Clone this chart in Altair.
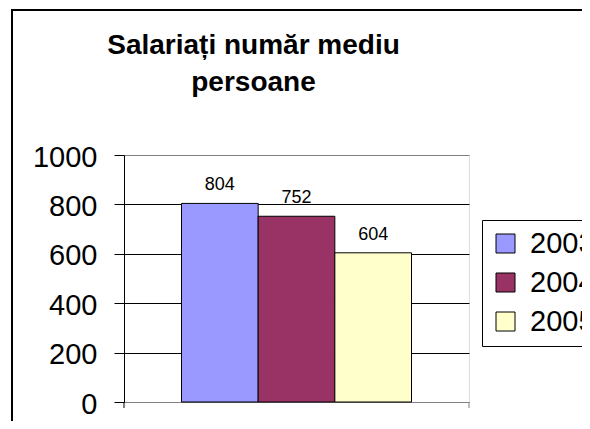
import altair as alt
import pandas as pd

years = ["2003", "2004", "2005"]
values = [804, 752, 604]
colors = ["#9999FF", "#993366", "#FFFFCC"]
y_ticks = [0, 200, 400, 600, 800, 1000]
title_lines = ["Salariați număr mediu", "persoane"]

df = pd.DataFrame({"an": years, "val": values})
FONT = "Liberation Sans"

xenc = alt.X("an:N", scale=alt.Scale(paddingInner=0, paddingOuter=0.75), axis=None)
yenc = alt.Y(
    "val:Q",
    scale=alt.Scale(domain=[0, 1000]),
    axis=alt.Axis(
        values=y_ticks,
        format="d",
        title=None,
        labelFontSize=29,
        labelFont=FONT,
        labelColor="black",
        tickSize=10,
        tickColor="black",
        domainColor="black",
        gridColor={"condition": {"test": "datum.value === 0 || datum.value === 1000", "value": "#808080"}, "value": "black"},
        labelPadding=17,
        labelOffset=2,
    ),
)

one = pd.DataFrame({"k": [0]})
# outer chart-area border (left and top edges; right/bottom lie outside the picture)
frame_left = alt.Chart(one).mark_rule(stroke="black", strokeWidth=2).encode(
    x=alt.value(-112), y=alt.value(-146), y2=alt.value(300)
)
frame_top = alt.Chart(one).mark_rule(stroke="black", strokeWidth=2).encode(
    x=alt.value(-113), x2=alt.value(470), y=alt.value(-145)
)
# category-axis boundary ticks
xtick_l = alt.Chart(one).mark_rule(stroke="black", strokeWidth=1).encode(
    x=alt.value(0), y=alt.value(247), y2=alt.value(253)
)
xtick_r = alt.Chart(one).mark_rule(stroke="#808080", strokeWidth=1).encode(
    x=alt.value(345), y=alt.value(247), y2=alt.value(253)
)

bars = alt.Chart(df).mark_bar(stroke="black", strokeWidth=1).encode(
    x=xenc,
    y=yenc,
    color=alt.Color(
        "an:N",
        scale=alt.Scale(domain=years, range=colors),
        legend=alt.Legend(
            title=None,
            orient="none",
            legendX=358,
            legendY=65,
            labelFontSize=29,
            labelFont=FONT,
            labelColor="black",
            symbolType="square",
            symbolSize=361,
            symbolStrokeColor="black",
            symbolStrokeWidth=1,
            strokeColor="black",
            fillColor="white",
            padding=9,
            rowPadding=9,
            labelOffset=10,
        ),
    ),
)

labels = alt.Chart(df).mark_text(
    baseline="alphabetic", dy=-13, fontSize=18, font=FONT, color="black"
).encode(x=xenc, y="val:Q", text="val:Q")

chart = alt.layer(frame_left, frame_top, xtick_l, xtick_r, bars, labels).properties(
    width=345,
    height=247,
    autosize=alt.AutoSizeParams(type="none"),
    padding={"left": 116, "top": 147, "right": 113, "bottom": 19},
    title=alt.TitleParams(
        title_lines,
        font=FONT,
        fontSize=28,
        fontWeight="bold",
        color="black",
        anchor="middle",
        frame="group",
        dx=-43,
        offset=-89,
        lineHeight=37,
    ),
).configure_view(stroke="#808080", strokeWidth=1).configure(background="white")

chart.save("out.html", embed_options={"renderer": "svg", "actions": False})
